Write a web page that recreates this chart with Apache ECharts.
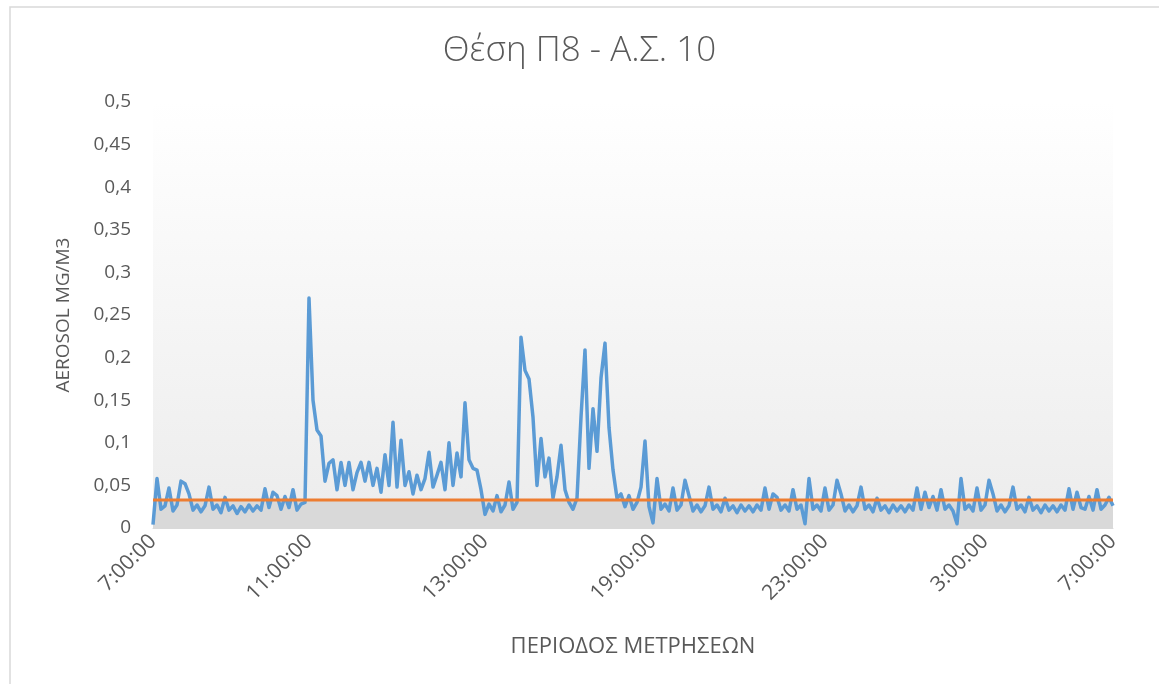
<!DOCTYPE html>
<html>
<head>
<meta charset="utf-8">
<title>Θέση Π8 - Α.Σ. 10</title>
<script src="https://cdn.jsdelivr.net/npm/echarts@6/dist/echarts.min.js"></script>
<style>
  html, body { margin: 0; padding: 0; background: #fff; }
  #main { width: 1159px; height: 684px; }
</style>
</head>
<body>
<div id="main"></div>
<script>
// aerosol readings, mg/m3 (one point every few minutes, 7:00 -> 7:00)
const aerosol = [
  0.004, 0.058, 0.022, 0.026, 0.047, 0.020, 0.027, 0.055, 0.052, 0.040,
  0.021, 0.027, 0.019, 0.026, 0.048, 0.022, 0.027, 0.018, 0.036, 0.021,
  0.026, 0.017, 0.025, 0.019, 0.027, 0.020, 0.026, 0.021, 0.046, 0.024,
  0.042, 0.038, 0.022, 0.037, 0.024, 0.045, 0.021, 0.028, 0.030, 0.270,
  0.150, 0.115, 0.108, 0.055, 0.076, 0.080, 0.045, 0.077, 0.050, 0.077,
  0.045, 0.065, 0.077, 0.055, 0.077, 0.050, 0.070, 0.042, 0.086, 0.050,
  0.124, 0.048, 0.103, 0.050, 0.066, 0.040, 0.062, 0.045, 0.058, 0.089,
  0.048, 0.062, 0.077, 0.045, 0.100, 0.050, 0.088, 0.060, 0.147, 0.080,
  0.070, 0.068, 0.045, 0.016, 0.028, 0.020, 0.038, 0.019, 0.027, 0.054,
  0.022, 0.030, 0.224, 0.185, 0.175, 0.130, 0.050, 0.105, 0.060, 0.082,
  0.035, 0.060, 0.097, 0.045, 0.030, 0.022, 0.035, 0.130, 0.209, 0.070,
  0.140, 0.090, 0.176, 0.217, 0.118, 0.068, 0.035, 0.040, 0.025, 0.038,
  0.022, 0.030, 0.048, 0.102, 0.025, 0.006, 0.058, 0.022, 0.028, 0.020,
  0.047, 0.021, 0.027, 0.056, 0.038, 0.020, 0.027, 0.019, 0.026, 0.048,
  0.022, 0.027, 0.019, 0.035, 0.021, 0.026, 0.018, 0.027, 0.020, 0.026,
  0.019, 0.027, 0.021, 0.047, 0.022, 0.040, 0.036, 0.021, 0.027, 0.020,
  0.045, 0.022, 0.027, 0.005, 0.058, 0.022, 0.027, 0.020, 0.047, 0.021,
  0.027, 0.056, 0.040, 0.020, 0.027, 0.019, 0.026, 0.048, 0.022, 0.027,
  0.019, 0.035, 0.021, 0.026, 0.018, 0.027, 0.020, 0.026, 0.019, 0.027,
  0.021, 0.047, 0.022, 0.042, 0.024, 0.037, 0.021, 0.045, 0.022, 0.027,
  0.020, 0.005, 0.058, 0.022, 0.027, 0.020, 0.047, 0.021, 0.027, 0.056,
  0.040, 0.020, 0.027, 0.019, 0.026, 0.048, 0.022, 0.027, 0.019, 0.036,
  0.021, 0.026, 0.018, 0.027, 0.020, 0.026, 0.019, 0.027, 0.021, 0.046,
  0.022, 0.042, 0.024, 0.022, 0.037, 0.021, 0.045, 0.022, 0.027, 0.036,
  0.026
];

// limit value drawn as the orange line
const limitValue = 0.033;

// where the time labels sit along the category axis
const tickIndex = [0, 39, 83, 125, 168, 208, 240];
const tickText = ['7:00:00', '11:00:00', '13:00:00', '19:00:00', '23:00:00', '3:00:00', '7:00:00'];

const categories = aerosol.map((v, i) => 'p' + i);
const limit = aerosol.map(() => limitValue);

const labelAt = {};
tickIndex.forEach((idx, k) => { labelAt[idx] = tickText[k]; });

const font = '"Open Sans", "Noto Sans", sans-serif';
const textGrey = '#595959';

const chart = echarts.init(document.getElementById('main'));

const option = {
  backgroundColor: '#fff',
  animation: false,
  textStyle: { fontFamily: font },
  title: {
    text: 'Θέση Π8 - Α.Σ. 10',
    left: 'center',
    top: 29,
    textStyle: { fontFamily: font, fontSize: 35, fontWeight: 300, color: textGrey }
  },
  graphic: [
    {
      type: 'rect',
      shape: { x: 10, y: 7, width: 1170, height: 700 },
      style: { fill: 'none', stroke: '#d9d9d9', lineWidth: 1.5 },
      silent: true
    }
  ],
  grid: {
    left: 153,
    right: 46,
    top: 102,
    bottom: 156,
    show: true,
    borderWidth: 0,
    backgroundColor: {
      type: 'linear', x: 0, y: 0, x2: 0, y2: 1,
      colorStops: [
        { offset: 0, color: '#ffffff' },
        { offset: 1, color: '#ececec' }
      ]
    }
  },
  xAxis: {
    type: 'category',
    data: categories,
    boundaryGap: false,
    name: 'ΠΕΡΙΟΔΟΣ ΜΕΤΡΗΣΕΩΝ',
    nameLocation: 'middle',
    nameGap: 108,
    nameTextStyle: { fontFamily: font, fontSize: 22, color: textGrey },
    axisLine: { lineStyle: { color: '#d9d9d9', width: 1 } },
    axisTick: { show: false },
    splitLine: { show: false },
    axisLabel: {
      interval: (idx) => labelAt[idx] !== undefined,
      formatter: (val, idx) => labelAt[idx] || '',
      rotate: 45,
      margin: 10,
      fontSize: 21,
      color: textGrey,
      fontFamily: font
    }
  },
  yAxis: {
    type: 'value',
    min: 0,
    max: 0.5,
    interval: 0.05,
    name: 'AEROSOL MG/M3',
    nameLocation: 'middle',
    nameGap: 80,
    nameTextStyle: { fontFamily: font, fontSize: 19, color: textGrey },
    axisLine: { show: false },
    axisTick: { show: false },
    splitLine: { show: false },
    axisLabel: {
      margin: 22,
      fontSize: 19,
      color: textGrey,
      fontFamily: font,
      formatter: (v) => String(+v.toFixed(2)).replace('.', ',')
    }
  },
  series: [
    {
      name: 'limit area',
      type: 'line',
      data: limit,
      symbol: 'none',
      lineStyle: { width: 0 },
      areaStyle: { color: '#d9d9d9', opacity: 1 },
      z: 1,
      silent: true
    },
    {
      name: 'aerosol',
      type: 'line',
      data: aerosol,
      symbol: 'none',
      lineStyle: { color: '#5b9bd5', width: 3.5, join: 'round' },
      z: 2
    },
    {
      name: 'limit',
      type: 'line',
      data: limit,
      symbol: 'none',
      lineStyle: { color: '#ed7d31', width: 3 },
      z: 3
    }
  ]
};

chart.setOption(option);
</script>
</body>
</html>
